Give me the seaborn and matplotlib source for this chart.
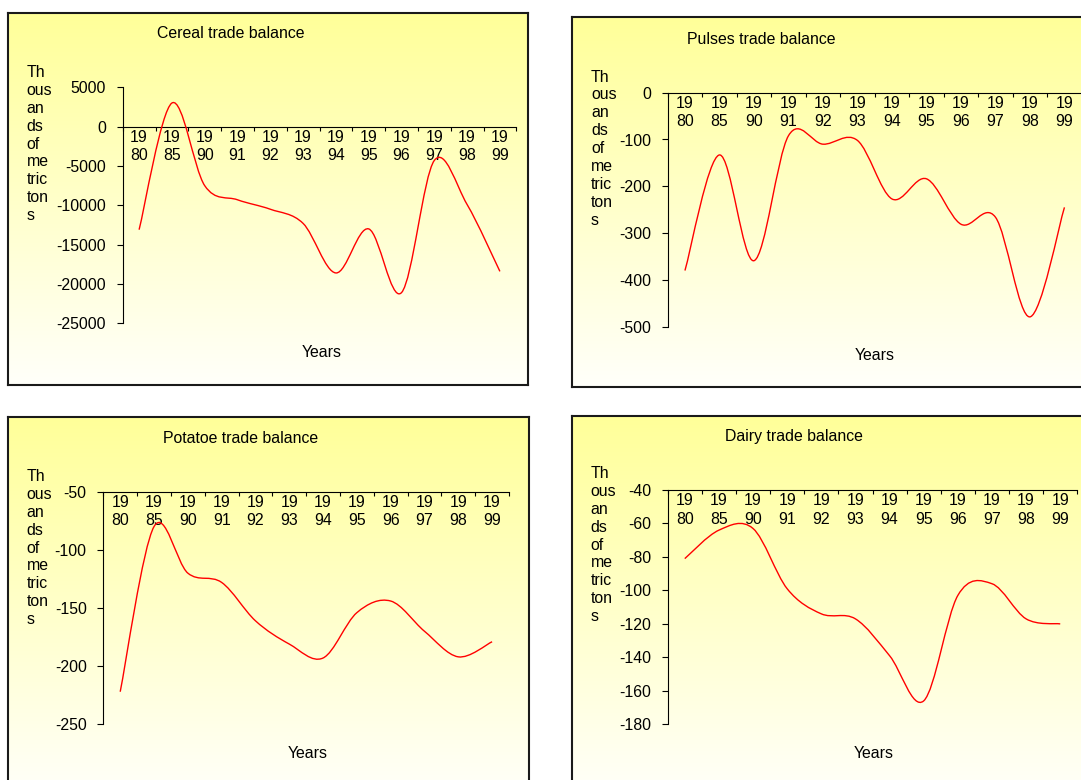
import numpy as np
import matplotlib
matplotlib.use("Agg")
import matplotlib.pyplot as plt
import seaborn as sns
from matplotlib.path import Path
from matplotlib.patches import PathPatch
from matplotlib.colors import LinearSegmentedColormap

# ---------------- data ----------------
years = ["1980", "1985", "1990", "1991", "1992", "1993",
         "1994", "1995", "1996", "1997", "1998", "1999"]

cereal = [-13100, 3000, -7500, -9300, -10500, -12300,
          -18600, -13000, -21100, -4300, -9900, -18400]
pulses = [-380, -133, -359, -92, -110, -102,
          -227, -184, -281, -266, -479, -245]
potatoe = [-222, -80, -120, -128, -161, -181,
           -193, -154, -144, -170, -192, -179]
dairy = [-81, -64, -63, -99, -114, -117,
         -139, -166, -103, -96, -117, -120]

cereal_ticks = [-25000, -20000, -15000, -10000, -5000, 0, 5000]
pulses_ticks = [-500, -400, -300, -200, -100, 0]
potatoe_ticks = [-250, -200, -150, -100, -50]
dairy_ticks = [-180, -160, -140, -120, -100, -80, -60, -40]

titles = ["Cereal trade balance", "Pulses trade balance",
          "Potatoe trade balance", "Dairy trade balance"]
ylabel_text = "Th\nous\nan\nds\nof\nme\ntric\nton\ns"
xlabel_text = "Years"

# ---------------- layout (pixels) ----------------
W, H = 1081, 780
panels = [
    dict(series=cereal, ticks=cereal_ticks, title=titles[0],
         box=(8, 13, 528, 385), plot=(122.7, 87.3, 516.3, 323.3),
         tpos=(230.7, 33.3), xpos=(322, 352.7), ypos=(26.5, 65)),
    dict(series=pulses, ticks=pulses_ticks, title=titles[1],
         box=(572, 17, 1095, 387), plot=(667.7, 92.7, 1081.7, 326.7),
         tpos=(760.8, 39.3), xpos=(875, 355.7), ypos=(591, 69.5)),
    dict(series=potatoe, ticks=potatoe_ticks, title=titles[2],
         box=(8, 417, 529, 795), plot=(103.3, 491.7, 509, 724.3),
         tpos=(240.4, 439), xpos=(307.5, 753.3), ypos=(26.5, 469)),
    dict(series=dairy, ticks=dairy_ticks, title=titles[3],
         box=(572, 416, 1095, 795), plot=(667.7, 490, 1077.3, 724.3),
         tpos=(794, 436.7), xpos=(874, 753.3), ypos=(590.7, 466)),
]

sns.set_theme(style="white")
plt.rcParams['font.family'] = ['Liberation Sans', 'DejaVu Sans']
plt.rcParams['axes.unicode_minus'] = False
FS = 11.4

fig = plt.figure(figsize=(W / 100, H / 100), dpi=100)
fig.patch.set_facecolor("white")

grad_cmap = LinearSegmentedColormap.from_list("yw", ["#FFFFFA", "#FFFF99"])


def rect(l, t, r, b):
    return [l / W, 1 - b / H, (r - l) / W, (b - t) / H]


def smooth_path(xs, ys):
    pts = np.column_stack([xs, ys]).astype(float)
    n = len(pts)
    verts = [pts[0]]
    codes = [Path.MOVETO]
    for i in range(n - 1):
        p0 = pts[i - 1] if i > 0 else pts[i]
        p1 = pts[i]
        p2 = pts[i + 1]
        p3 = pts[i + 2] if i + 2 < n else pts[i + 1]
        verts += [p1 + (p2 - p0) / 6.0, p2 - (p3 - p1) / 6.0, p2]
        codes += [Path.CURVE4] * 3
    return Path(verts, codes)


xlabels = [f"{y[:2]}\n{y[2:]}" for y in years]
cat_pos = np.arange(len(years)) + 0.5

for p in panels:
    # background box with gradient
    bg = fig.add_axes(rect(*p["box"]), zorder=0)
    grad = np.linspace(0, 1, 256).reshape(-1, 1)
    bg.imshow(grad, aspect="auto", cmap=grad_cmap, origin="lower",
              extent=[0, 1, 0, 1], interpolation="bilinear")
    bg.set_xlim(0, 1)
    bg.set_ylim(0, 1)
    bg.set_xticks([])
    bg.set_yticks([])
    for s in bg.spines.values():
        s.set_visible(True)
        s.set_color("#1a1a1a")
        s.set_linewidth(1.5)

    l, t, r, b = p["plot"]
    ax = fig.add_axes(rect(l, t, r, b), zorder=1)
    ax.patch.set_alpha(0)
    sns.despine(ax=ax)
    ticks = p["ticks"]
    ax.set_xlim(0, len(years))
    ax.set_ylim(min(ticks), max(ticks))
    base = 0 if min(ticks) < 0 < max(ticks) else max(ticks)
    ax.spines["bottom"].set_position(("data", base))
    for k in ("left", "bottom"):
        ax.spines[k].set_color("black")
        ax.spines[k].set_linewidth(0.8)

    ax.set_xticks(np.arange(len(years) + 1))
    ax.set_xticklabels([])
    ax.set_xticks(cat_pos, xlabels, minor=True)
    ax.tick_params(axis="x", which="major", direction="out", length=3,
                   width=0.8, color="black", bottom=True)
    ax.tick_params(axis="x", which="minor", length=0, pad=2.5,
                   labelsize=FS, labelcolor="black", bottom=True)
    for lab in ax.get_xticklabels(minor=True):
        lab.set_linespacing(1.26)
        lab.set_verticalalignment("top")

    ax.set_yticks(ticks, [str(v) for v in ticks])
    ax.tick_params(axis="y", direction="out", length=4, width=0.8,
                   color="black", pad=8, labelsize=FS, labelcolor="black",
                   left=True)

    # smoothed line (Excel-style smoothing) through the 12 values
    path = smooth_path(cat_pos, p["series"])
    ax.add_patch(PathPatch(path, fill=False, edgecolor="#FF0000",
                           linewidth=1.0, zorder=3))

    def frac(px, py):
        return (px - l) / (r - l), (b - py) / (b - t)

    fx, fy = frac(*p["tpos"])
    ax.set_title(p["title"], x=fx, y=fy, pad=0, va="center", ha="center",
                 fontsize=FS, color="black")

    ax.set_xlabel(xlabel_text, fontsize=FS, color="black")
    ax.xaxis.set_label_coords(*frac(*p["xpos"]))
    ax.xaxis.label.set_va("center")
    ax.xaxis.label.set_ha("center")

    ax.set_ylabel(ylabel_text, rotation=0, fontsize=FS, color="black",
                  linespacing=1.24)
    ax.yaxis.set_label_coords(*frac(*p["ypos"]))
    ax.yaxis.label.set_ha("left")
    ax.yaxis.label.set_va("top")

fig.savefig("out.png", dpi=100)
